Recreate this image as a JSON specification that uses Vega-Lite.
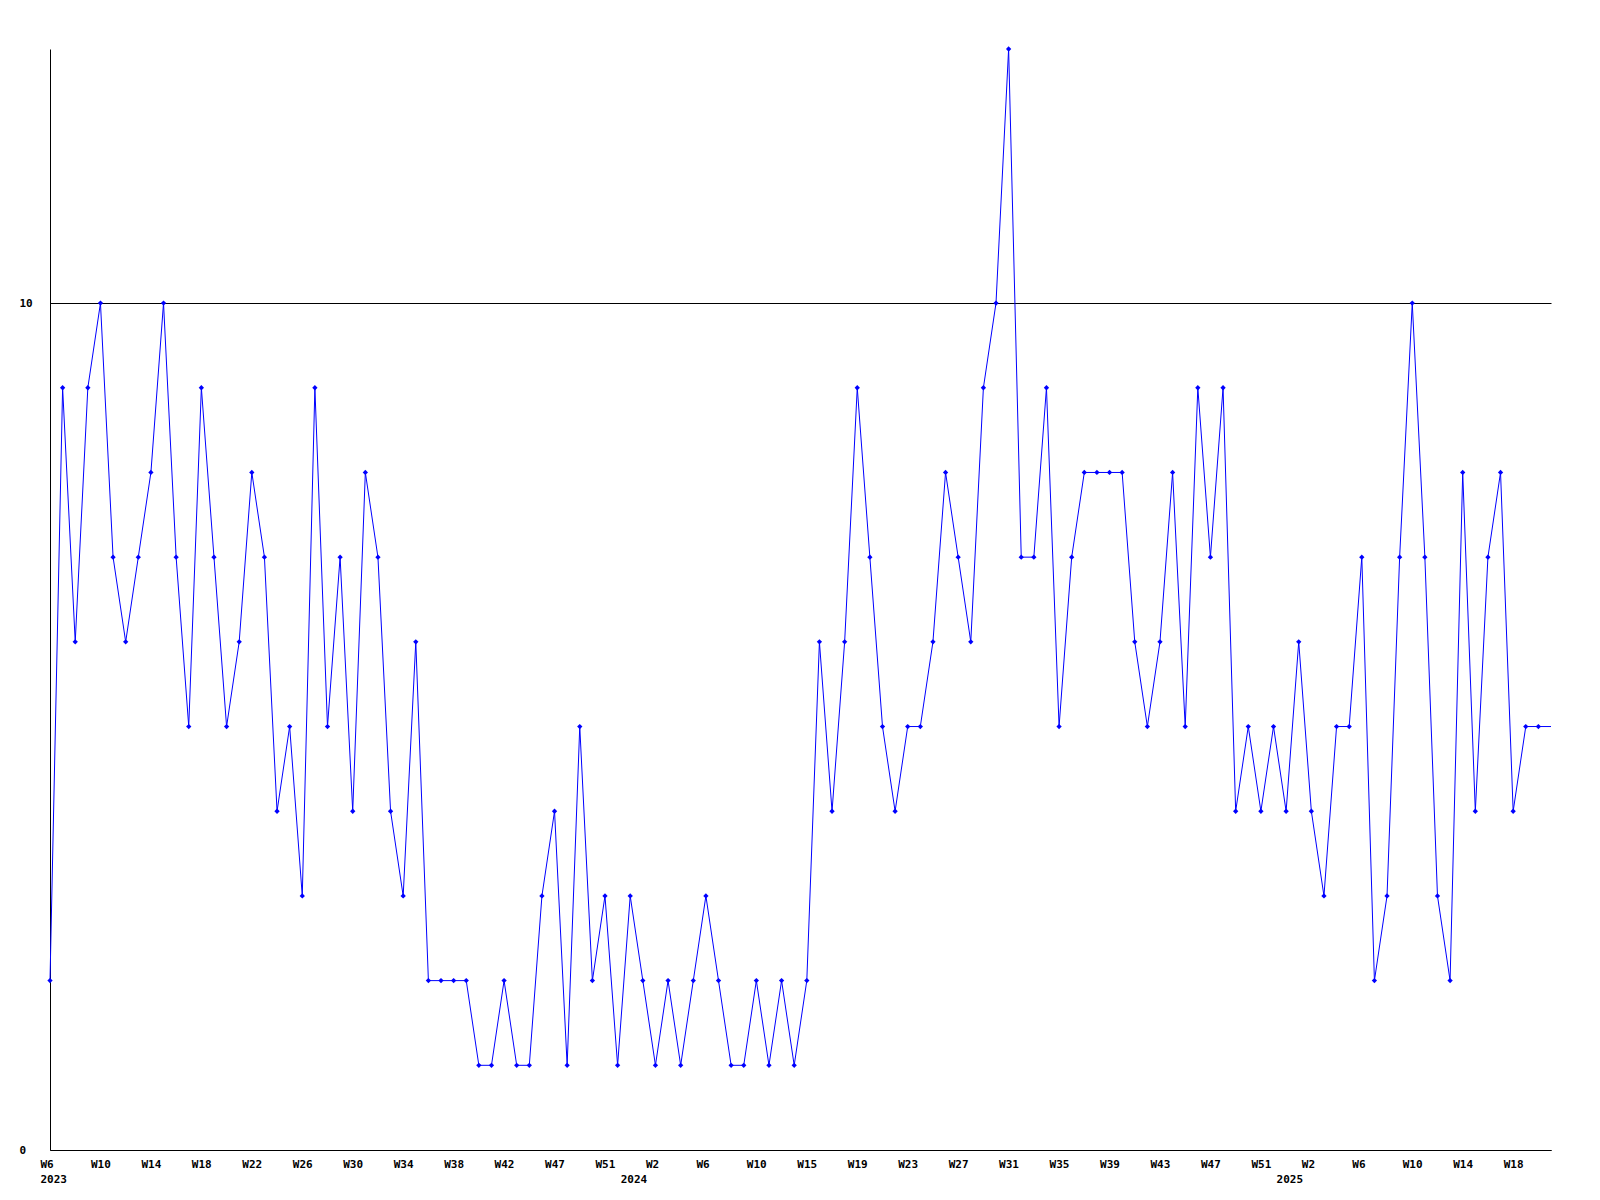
{
  "$schema": "https://vega.github.io/schema/vega-lite/v6.json",
  "autosize": "none",
  "width": 1501,
  "height": 1101,
  "padding": {"left": 50, "top": 49, "right": 49, "bottom": 50},
  "background": "white",
  "config": {
    "view": {"stroke": null},
    "axis": {"labelFont": "DejaVu Sans Mono", "labelFontWeight": "bold", "labelFontSize": 11, "labelColor": "black", "domainColor": "black"}
  },
  "data": {"values": [
    {"week": "2023-W06", "value": 2}, {"week": "2023-W07", "value": 9}, {"week": "2023-W08", "value": 6}, {"week": "2023-W09", "value": 9},
    {"week": "2023-W10", "value": 10}, {"week": "2023-W11", "value": 7}, {"week": "2023-W12", "value": 6}, {"week": "2023-W13", "value": 7},
    {"week": "2023-W14", "value": 8}, {"week": "2023-W15", "value": 10}, {"week": "2023-W16", "value": 7}, {"week": "2023-W17", "value": 5},
    {"week": "2023-W18", "value": 9}, {"week": "2023-W19", "value": 7}, {"week": "2023-W20", "value": 5}, {"week": "2023-W21", "value": 6},
    {"week": "2023-W22", "value": 8}, {"week": "2023-W23", "value": 7}, {"week": "2023-W24", "value": 4}, {"week": "2023-W25", "value": 5},
    {"week": "2023-W26", "value": 3}, {"week": "2023-W27", "value": 9}, {"week": "2023-W28", "value": 5}, {"week": "2023-W29", "value": 7},
    {"week": "2023-W30", "value": 4}, {"week": "2023-W31", "value": 8}, {"week": "2023-W32", "value": 7}, {"week": "2023-W33", "value": 4},
    {"week": "2023-W34", "value": 3}, {"week": "2023-W35", "value": 6}, {"week": "2023-W36", "value": 2}, {"week": "2023-W37", "value": 2},
    {"week": "2023-W38", "value": 2}, {"week": "2023-W39", "value": 2}, {"week": "2023-W40", "value": 1}, {"week": "2023-W41", "value": 1},
    {"week": "2023-W42", "value": 2}, {"week": "2023-W43", "value": 1}, {"week": "2023-W44", "value": 1}, {"week": "2023-W45", "value": 3},
    {"week": "2023-W46", "value": 4}, {"week": "2023-W47", "value": 1}, {"week": "2023-W48", "value": 5}, {"week": "2023-W49", "value": 2},
    {"week": "2023-W50", "value": 3}, {"week": "2023-W51", "value": 1}, {"week": "2023-W52", "value": 3},
    {"week": "2024-W01", "value": 2}, {"week": "2024-W02", "value": 1}, {"week": "2024-W03", "value": 2}, {"week": "2024-W04", "value": 1},
    {"week": "2024-W05", "value": 2}, {"week": "2024-W06", "value": 3}, {"week": "2024-W07", "value": 2}, {"week": "2024-W08", "value": 1},
    {"week": "2024-W09", "value": 1}, {"week": "2024-W10", "value": 2}, {"week": "2024-W11", "value": 1}, {"week": "2024-W12", "value": 2},
    {"week": "2024-W13", "value": 1}, {"week": "2024-W14", "value": 2}, {"week": "2024-W15", "value": 6}, {"week": "2024-W16", "value": 4},
    {"week": "2024-W17", "value": 6}, {"week": "2024-W18", "value": 9}, {"week": "2024-W19", "value": 7}, {"week": "2024-W20", "value": 5},
    {"week": "2024-W21", "value": 4}, {"week": "2024-W22", "value": 5}, {"week": "2024-W23", "value": 5}, {"week": "2024-W24", "value": 6},
    {"week": "2024-W25", "value": 8}, {"week": "2024-W26", "value": 7}, {"week": "2024-W27", "value": 6}, {"week": "2024-W28", "value": 9},
    {"week": "2024-W29", "value": 10}, {"week": "2024-W30", "value": 13}, {"week": "2024-W31", "value": 7}, {"week": "2024-W32", "value": 7},
    {"week": "2024-W33", "value": 9}, {"week": "2024-W34", "value": 5}, {"week": "2024-W35", "value": 7}, {"week": "2024-W36", "value": 8},
    {"week": "2024-W37", "value": 8}, {"week": "2024-W38", "value": 8}, {"week": "2024-W39", "value": 8}, {"week": "2024-W40", "value": 6},
    {"week": "2024-W41", "value": 5}, {"week": "2024-W42", "value": 6}, {"week": "2024-W43", "value": 8}, {"week": "2024-W44", "value": 5},
    {"week": "2024-W45", "value": 9}, {"week": "2024-W46", "value": 7}, {"week": "2024-W47", "value": 9}, {"week": "2024-W48", "value": 4},
    {"week": "2024-W49", "value": 5}, {"week": "2024-W50", "value": 4}, {"week": "2024-W51", "value": 5}, {"week": "2024-W52", "value": 4},
    {"week": "2025-W01", "value": 6}, {"week": "2025-W02", "value": 4}, {"week": "2025-W03", "value": 3}, {"week": "2025-W04", "value": 5},
    {"week": "2025-W05", "value": 5}, {"week": "2025-W06", "value": 7}, {"week": "2025-W07", "value": 2}, {"week": "2025-W08", "value": 3},
    {"week": "2025-W09", "value": 7}, {"week": "2025-W10", "value": 10}, {"week": "2025-W11", "value": 7}, {"week": "2025-W12", "value": 3},
    {"week": "2025-W13", "value": 2}, {"week": "2025-W14", "value": 8}, {"week": "2025-W15", "value": 4}, {"week": "2025-W16", "value": 7},
    {"week": "2025-W17", "value": 8}, {"week": "2025-W18", "value": 4}, {"week": "2025-W19", "value": 5}, {"week": "2025-W20", "value": 5},
    {"week": "2025-W21", "value": 5}
  ]},
  "encoding": {
    "x": {
      "field": "week",
      "type": "ordinal",
      "sort": null,
      "scale": {"type": "point", "padding": 0},
      "axis": {
        "title": null,
        "ticks": false,
        "tickSize": 0,
        "grid": false,
        "domainColor": "black",
        "domainWidth": 1,
        "labelAngle": 0,
        "labelAlign": "left",
        "labelBaseline": "top",
        "labelPadding": 8,
        "labelOffset": -10,
        "labelLineHeight": 15,
        "labelOverlap": false,
        "labelFlush": false,
        "labelBound": false,
        "labelExpr": "({'2023-W06':['W6','2023'],'2023-W10':'W10','2023-W14':'W14','2023-W18':'W18','2023-W22':'W22','2023-W26':'W26','2023-W30':'W30','2023-W34':'W34','2023-W38':'W38','2023-W42':'W42','2023-W46':'W47','2023-W50':'W51','2023-W52':[' ','2024'],'2024-W02':'W2','2024-W06':'W6','2024-W10':'W10','2024-W14':'W15','2024-W18':'W19','2024-W22':'W23','2024-W26':'W27','2024-W30':'W31','2024-W34':'W35','2024-W38':'W39','2024-W42':'W43','2024-W46':'W47','2024-W50':'W51','2024-W52':[' ','2025'],'2025-W02':'W2','2025-W06':'W6','2025-W10':'W10','2025-W14':'W14','2025-W18':'W18'})[datum.value] || ''"
      }
    },
    "y": {
      "field": "value",
      "type": "quantitative",
      "scale": {"domain": [0, 13], "nice": false, "zero": true},
      "axis": {
        "title": null,
        "values": [0, 10],
        "ticks": false,
        "tickSize": 0,
        "grid": true,
        "gridColor": "black",
        "gridOpacity": 1,
        "gridWidth": 1,
        "domainColor": "black",
        "labelAlign": "left",
        "labelBaseline": "middle",
        "labelPadding": 31
      }
    }
  },
  "layer": [
    {"mark": {"type": "line", "color": "#0000ff", "strokeWidth": 1}},
    {
      "transform": [{"filter": "datum.week != '2025-W21'"}],
      "mark": {"type": "point", "shape": "diamond", "filled": true, "color": "#0000ff", "size": 28, "opacity": 1}
    }
  ]
}
